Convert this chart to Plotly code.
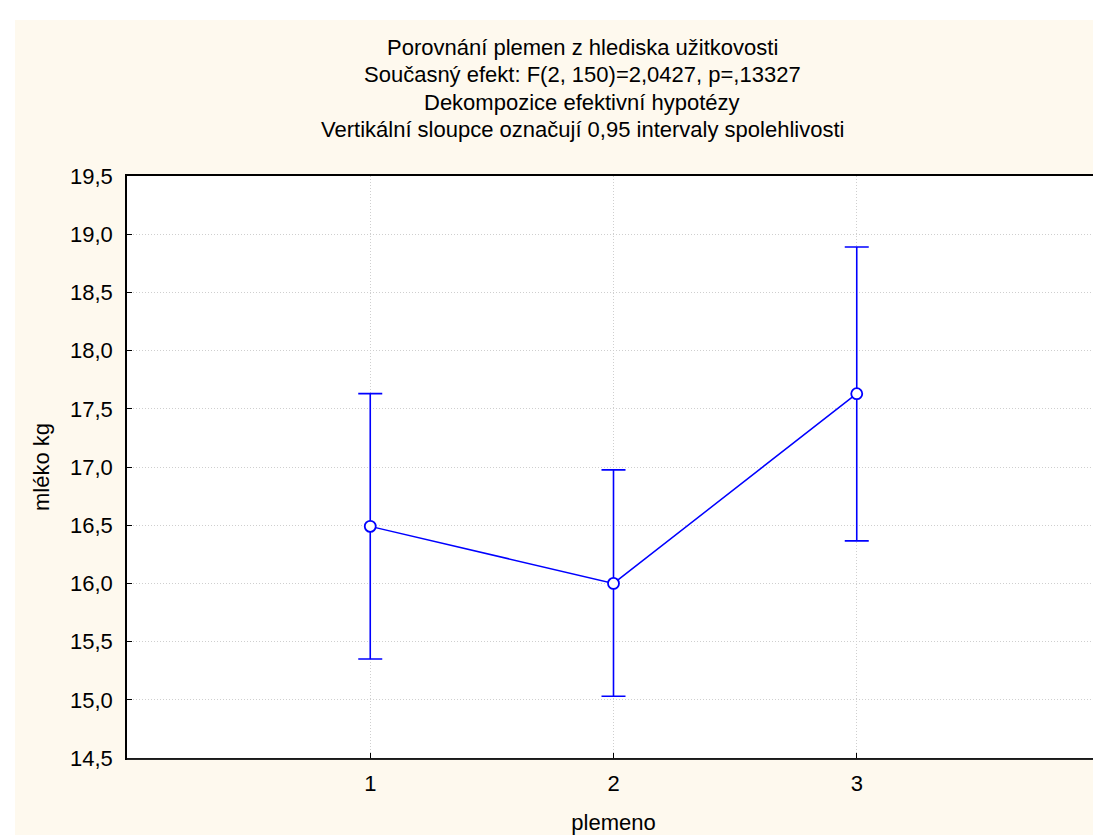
import plotly.graph_objects as go

# ---- data ----
categories = [1, 2, 3]
category_labels = ["1", "2", "3"]
means = [16.49, 16.00, 17.63]
ci_upper = [17.63, 16.975, 18.89]
ci_lower = [15.35, 15.03, 16.365]
y_ticks = [14.5, 15.0, 15.5, 16.0, 16.5, 17.0, 17.5, 18.0, 18.5, 19.0, 19.5]
y_tick_labels = ["14,5", "15,0", "15,5", "16,0", "16,5", "17,0", "17,5",
                 "18,0", "18,5", "19,0", "19,5"]
title_lines = [
    "Porovnání plemen z hlediska užitkovosti",
    "Současný efekt: F(2, 150)=2,0427, p=,13327",
    "Dekompozice efektivní hypotézy",
    "Vertikální sloupce označují 0,95 intervaly spolehlivosti",
]

err_plus = [u - m for u, m in zip(ci_upper, means)]
err_minus = [m - l for m, l in zip(means, ci_lower)]

FONT = "Liberation Sans, Arial, sans-serif"
CREAM = "#FEF9EE"
W, H = 1101, 835
ML, MR, MT, MB = 119, 9, 168, 85
PW = W - ML - MR
PH = H - MT - MB
px_x = lambda p: (p - ML) / PW          # figure px -> paper x
px_y = lambda p: (H - MB - p) / PH      # figure px -> paper y

fig = go.Figure()
fig.add_trace(go.Scatter(
    x=categories, y=means,
    mode="lines+markers",
    line=dict(color="#0000FF", width=1.5),
    marker=dict(symbol="circle", size=11, color="white",
                line=dict(color="#0000FF", width=1.8)),
    error_y=dict(type="data", symmetric=False, array=err_plus,
                 arrayminus=err_minus, color="#0000FF",
                 thickness=1.6, width=12),
    showlegend=False,
))

annotations = []
title_y_px = [40, 67, 94, 121]
for txt, ypx in zip(title_lines, title_y_px):
    annotations.append(dict(
        text=txt, xref="paper", yref="paper",
        x=px_x(574), y=px_y(ypx),
        xanchor="center", yanchor="middle", showarrow=False,
        font=dict(family=FONT, size=22, color="black"),
    ))

fig.update_layout(
    width=W, height=H,
    margin=dict(l=ML, r=MR, t=MT, b=MB, pad=0),
    paper_bgcolor=CREAM,
    plot_bgcolor="white",
    font=dict(family=FONT, size=22, color="black"),
    annotations=annotations,
    shapes=[
        # white strip at top and left of the page
        dict(type="rect", xref="paper", yref="paper",
             x0=px_x(-5), x1=px_x(W + 5), y0=px_y(12), y1=px_y(-5),
             fillcolor="white", line=dict(width=0), layer="below"),
        dict(type="rect", xref="paper", yref="paper",
             x0=px_x(-5), x1=px_x(7), y0=px_y(H + 5), y1=px_y(-5),
             fillcolor="white", line=dict(width=0), layer="below"),
        # darker right / bottom frame edge (shadow)
        dict(type="line", xref="paper", yref="paper",
             x0=1 + 1.2 / PW, x1=1 + 1.2 / PW, y0=0 - 1.5 / PH, y1=1,
             line=dict(color="#333333", width=1.2), layer="above"),
        dict(type="line", xref="paper", yref="paper",
             x0=0, x1=1 + 1.5 / PW, y0=0 - 1.2 / PH, y1=0 - 1.2 / PH,
             line=dict(color="#333333", width=1.2), layer="above"),
    ],
)

fig.update_xaxes(
    range=[0, 4],
    tickvals=categories, ticktext=category_labels,
    ticks="inside", ticklen=5, tickcolor="black", tickwidth=1,
    showline=True, linecolor="black", linewidth=1.6, mirror=True,
    showgrid=True, gridcolor="#CFCFCF", griddash="1px,2px", gridwidth=1,
    zeroline=False, automargin=False,
    ticklabelstandoff=5,
    title=dict(text="plemeno", standoff=19,
               font=dict(family=FONT, size=22, color="black")),
    tickfont=dict(family=FONT, size=22, color="black"),
)
fig.update_yaxes(
    range=[14.5, 19.5],
    tickvals=y_ticks, ticktext=y_tick_labels,
    ticks="inside", ticklen=5, tickcolor="black", tickwidth=1,
    showline=True, linecolor="black", linewidth=1.6, mirror=True,
    showgrid=True, gridcolor="#CFCFCF", griddash="1px,2px", gridwidth=1,
    zeroline=False, automargin=False,
    ticklabelstandoff=8,
    title=dict(text="mléko kg", standoff=14,
               font=dict(family=FONT, size=22, color="black")),
    tickfont=dict(family=FONT, size=22, color="black"),
)

fig.write_html("out.html")
